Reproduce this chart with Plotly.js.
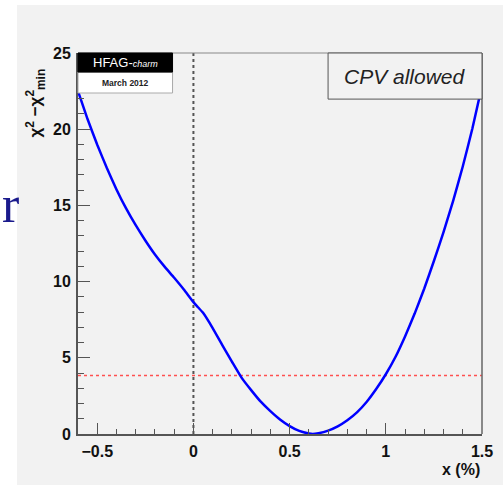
<!DOCTYPE html>
<html>
<head>
<meta charset="utf-8">
<script src="https://cdn.plot.ly/plotly-3.0.1.min.js"></script>
<style>
html,body{margin:0;padding:0;background:#fff;}
#wrap{position:relative;width:503px;height:485px;background:#fff;overflow:hidden;}
#bg{position:absolute;left:17px;top:5px;width:486px;height:480px;background:#f2f2f2;}
#plot{position:absolute;left:0;top:0;width:503px;height:485px;}
</style>
</head>
<body>
<div id="wrap"><div id="bg"></div><div id="plot"></div></div>
<script>
// Scan of chi2 - chi2_min versus x (%)
const xValues = [-0.6,-0.55,-0.5,-0.45,-0.4,-0.35,-0.3,-0.25,-0.2,-0.15,-0.1,-0.05,0,0.025,0.05,0.1,0.15,0.2,0.25,0.3,0.35,0.4,0.45,0.5,0.55,0.6,0.62,0.65,0.7,0.75,0.8,0.85,0.9,0.95,1.0,1.05,1.1,1.15,1.2,1.25,1.3,1.35,1.4,1.45,1.5];
const chi2Values = [22.5,20.65,18.98,17.45,16.05,14.8,13.7,12.7,11.78,10.98,10.25,9.48,8.65,8.3,7.95,6.95,5.83,4.75,3.7,2.88,2.12,1.5,0.95,0.52,0.2,0.03,0,0.05,0.22,0.5,0.9,1.42,2.1,2.95,3.92,5.05,6.4,7.9,9.55,11.35,13.25,15.3,17.55,20.05,22.85];
const xRange = [-0.6, 1.5];
const yRange = [0, 25];
const cl95Level = 3.84;      // horizontal red dotted line
const noMixingX = 0;         // vertical dotted line
const xTickVals = [-0.5, 0, 0.5, 1, 1.5];
const xTickText = ['−0.5', '0', '0.5', '1', '1.5'];
const yTickVals = [0, 5, 10, 15, 20, 25];

const tickFont = {family: 'Liberation Sans, Arial, sans-serif', size: 16, color: '#111', weight: 'bold'};

const traces = [
  {x: [noMixingX, noMixingX], y: yRange, mode: 'lines',
   line: {color: '#555', width: 2, dash: 'dot'}, hoverinfo: 'skip'},
  {x: xRange, y: [cl95Level, cl95Level], mode: 'lines',
   line: {color: '#ff5050', width: 1.5, dash: 'dot'}, hoverinfo: 'skip'},
  {x: xValues, y: chi2Values, mode: 'lines',
   line: {color: '#0000ff', width: 2.5, shape: 'spline', smoothing: 0.4}}
];

const layout = {
  width: 503, height: 485,
  margin: {l: 78, r: 21, t: 53, b: 51},
  paper_bgcolor: 'rgba(0,0,0,0)',
  plot_bgcolor: 'rgba(0,0,0,0)',
  showlegend: false,
  xaxis: {
    range: xRange, tickvals: xTickVals, ticktext: xTickText,
    ticks: 'inside', ticklen: 11, tickwidth: 1, tickcolor: '#555',
    minor: {dtick: 0.1, tick0: 0, ticks: 'inside', ticklen: 5, tickcolor: '#555', tickwidth: 1, showgrid: false},
    showline: true, linecolor: '#555', linewidth: 2, showgrid: false, zeroline: false,
    tickfont: tickFont, ticklabelstandoff: 2
  },
  yaxis: {
    range: yRange, tickvals: yTickVals,
    ticks: 'inside', ticklen: 12, tickwidth: 1, tickcolor: '#555',
    minor: {dtick: 1, tick0: 0, ticks: 'inside', ticklen: 6, tickcolor: '#555', tickwidth: 1, showgrid: false},
    showline: true, linecolor: '#555', linewidth: 2, showgrid: false, zeroline: false,
    tickfont: tickFont, ticklabelstandoff: 2
  },
  shapes: [
    {type: 'line', xref: 'paper', yref: 'paper', x0: 0, x1: 1, y0: 1, y1: 1, line: {color: '#888', width: 1}},
    {type: 'line', xref: 'paper', yref: 'paper', x0: 1, x1: 1, y0: 0, y1: 1, line: {color: '#666', width: 1.5}},
    {type: 'rect', xref: 'paper', yref: 'paper', x0: 0, x1: 0.234, y0: 0.895, y1: 0.950, fillcolor: '#ffffff', line: {color: '#aaa', width: 1}},
    {type: 'rect', xref: 'paper', yref: 'paper', x0: 0, x1: 0.234, y0: 0.950, y1: 1, fillcolor: '#000000', line: {color: '#000', width: 1}},
    {type: 'rect', xref: 'paper', yref: 'paper', x0: 0.619, x1: 1.0, y0: 0.879, y1: 1, fillcolor: '#f2f2f2', line: {color: '#555', width: 1}}
  ],
  annotations: [
    {xref: 'paper', yref: 'paper', x: 0.117, y: 0.975, xanchor: 'center', yanchor: 'middle', showarrow: false,
     text: 'HFAG-<i><span style="font-size:9px">charm</span></i>', font: {family: 'Liberation Sans, Arial, sans-serif', size: 13, color: '#fff'}},
    {xref: 'paper', yref: 'paper', x: 0.117, y: 0.9225, xanchor: 'center', yanchor: 'middle', showarrow: false,
     text: '<b>March 2012</b>', font: {family: 'Liberation Sans, Arial, sans-serif', size: 8.5, color: '#222'}},
    {xref: 'paper', yref: 'paper', x: 0.809, y: 0.938, xanchor: 'center', yanchor: 'middle', showarrow: false,
     text: '<i>CPV allowed</i>', font: {family: 'Liberation Sans, Arial, sans-serif', size: 21, color: '#222'}},
    {xref: 'paper', yref: 'paper', x: 1, y: -0.094, xanchor: 'right', yanchor: 'middle', showarrow: false,
     text: '<b>x (%)</b>', font: {family: 'Liberation Sans, Arial, sans-serif', size: 16, color: '#111'}},
    {xref: 'paper', yref: 'paper', x: -0.106, y: 0.868, xanchor: 'center', yanchor: 'middle', showarrow: false, textangle: -90,
     text: '<b>χ<sup>2</sup> −χ<sup>2</sup><sub>min</sub></b>', font: {family: 'Liberation Sans, Arial, sans-serif', size: 17, color: '#111'}},
    {xref: 'paper', yref: 'paper', x: -0.193, y: 0.602, xanchor: 'left', yanchor: 'middle', showarrow: false,
     text: 'r', font: {family: 'Liberation Serif, Times New Roman, serif', size: 52, color: '#1a1a8c'}}
  ]
};

Plotly.newPlot('plot', traces, layout, {displayModeBar: false, staticPlot: true});
</script>
</body>
</html>
